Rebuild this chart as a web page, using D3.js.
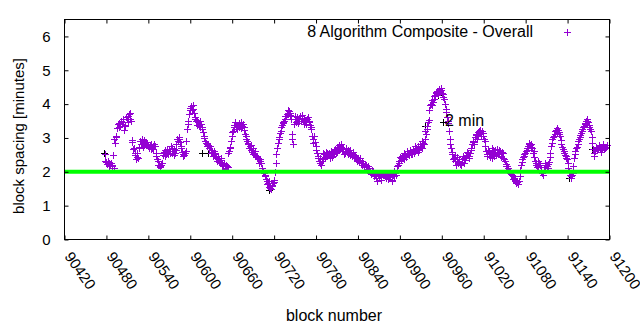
<!DOCTYPE html>
<html>
<head>
<meta charset="utf-8">
<script src="https://cdn.jsdelivr.net/npm/d3@7"></script>
<style>
  html, body { margin: 0; padding: 0; background: #fff; }
  svg { display: block; font-family: "Liberation Sans", Arial, sans-serif; }
</style>
</head>
<body>
<svg id="chart" width="640" height="330"></svg>
<script>
// ---- data ----
const xTicks = [90420, 90480, 90540, 90600, 90660, 90720, 90780, 90840, 90900, 90960, 91020, 91080, 91140, 91200];
const yTicks = [0, 1, 2, 3, 4, 5, 6];
const seriesName = "8 Algorithm Composite - Overall";
const refLabel = "2 min";
const refValue = 2;
const firstBlock = 90478;      // even blocks 90478, 90480, ...
const firstOddBlock = 90479;   // odd blocks 90479, 90481, ...
const blockStep = 2;
const overallEvenValues = [
  2.30, 2.28, 2.22, 2.25, 2.18, 2.15, 2.48, 2.95, 3.05, 3.28,
  3.42, 3.35, 3.50, 3.45, 3.22, 3.38, 3.55, 3.62, 3.73, 3.48,
  2.92, 2.70, 2.55, 2.42, 2.38, 2.68, 2.82, 2.95, 2.78, 2.85,
  2.88, 2.75, 2.72, 2.80, 2.70, 2.66, 2.74, 2.45, 2.30, 2.20,
  2.15, 2.25, 2.55, 2.62, 2.50, 2.58, 2.65, 2.55, 2.70, 2.60,
  2.48, 2.62, 2.95, 3.00, 2.88, 2.68, 2.52, 2.48, 2.60, 3.25,
  3.50, 3.82, 3.93, 3.85, 3.72, 3.55, 3.38, 3.45, 3.30, 3.40,
  3.30, 3.05, 2.90, 2.82, 2.78, 2.70, 2.62, 2.58, 2.50, 2.55,
  2.42, 2.35, 2.28, 2.40, 2.22, 2.15, 2.10, 2.18, 2.12, 2.60,
  2.72, 3.05, 3.20, 3.38, 3.30, 3.25, 3.42, 3.35, 3.28, 3.40,
  3.32, 3.05, 2.90, 2.82, 2.75, 2.62, 2.70, 2.55, 2.48, 2.42,
  2.38, 2.30, 2.25, 2.05, 1.95, 1.85, 1.72, 1.65, 1.55, 1.48,
  1.60, 1.68, 1.98, 2.50, 2.85, 3.00, 3.20, 3.38, 3.45, 3.55,
  3.62, 3.70, 3.78, 3.65, 3.10, 2.80, 3.55, 3.45, 3.60, 3.50,
  3.62, 3.58, 3.48, 3.40, 3.52, 3.55, 3.45, 3.38, 3.25, 2.85,
  3.05, 2.75, 2.55, 2.40, 2.25, 2.20, 2.35, 2.50, 2.42, 2.55,
  2.48, 2.38, 2.60, 2.45, 2.52, 2.65, 2.58, 2.70, 2.78, 2.72,
  2.65, 2.60, 2.55, 2.68, 2.50, 2.58, 2.62, 2.45, 2.52, 2.40,
  2.42, 2.35, 2.28, 2.38, 2.20, 2.25, 2.12, 2.18, 2.05, 2.10,
  1.98, 1.92, 2.00, 1.85, 1.95, 1.72, 1.88, 1.90, 1.82, 1.95,
  1.90, 1.85, 1.93, 1.78, 1.88, 1.92, 1.70, 1.85, 1.95, 2.05,
  2.20, 2.30, 2.38, 2.45, 2.35, 2.50, 2.42, 2.55, 2.48, 2.58,
  2.52, 2.65, 2.60, 2.70, 2.75, 2.62, 2.80, 2.68, 2.85, 2.95,
  3.10, 3.35, 3.52, 3.95, 4.10, 4.05, 4.22, 4.30, 4.38, 4.42,
  4.35, 4.40, 4.28, 4.15, 3.85, 3.60, 3.42, 2.95, 2.70, 2.50,
  2.40, 2.30, 2.42, 2.25, 2.35, 2.18, 2.28, 2.40, 2.32, 2.48,
  2.55, 2.45, 2.62, 2.80, 2.90, 3.00, 3.10, 3.05, 3.18, 3.12,
  3.20, 3.05, 2.90, 2.60, 2.45, 2.58, 2.50, 2.40, 2.62, 2.55,
  2.48, 2.65, 2.52, 2.60, 2.42, 2.55, 2.35, 2.22, 2.15, 2.05,
  2.00, 1.92, 1.85, 1.80, 1.72, 1.68, 1.62, 1.85, 2.20, 2.35,
  2.45, 2.55, 2.62, 2.75, 2.85, 2.80, 2.70, 2.60, 2.30, 2.20,
  2.15, 2.25, 2.05, 1.95, 1.88, 2.12, 2.20, 2.10, 2.28, 2.55,
  2.85, 3.00, 3.10, 3.22, 3.28, 3.15, 3.05, 2.80, 2.65, 2.55,
  2.45, 2.35, 2.10, 1.90, 1.80, 1.95, 2.40, 2.60, 2.72, 2.90,
  3.00, 3.12, 3.25, 3.35, 3.42, 3.50, 3.45, 3.32, 3.20, 2.85,
  2.45, 2.60, 2.72, 2.65, 2.78, 2.62, 2.70, 2.75, 2.68, 2.72
];
const overallOddValues = [
  2.52, 2.22, 2.30, 2.15, 2.25, 2.20, 2.10, 2.85, 3.00, 3.40,
  3.30, 3.48, 3.40, 3.55, 3.35, 3.60, 3.45, 3.70, 3.55, 2.88,
  2.65, 2.48, 2.35, 2.55, 2.72, 2.90, 2.80, 2.72, 2.92, 2.78,
  2.82, 2.68, 2.78, 2.65, 2.75, 2.80, 2.55, 2.35, 2.18, 2.12,
  2.20, 2.48, 2.58, 2.45, 2.65, 2.52, 2.60, 2.75, 2.55, 2.65,
  2.55, 2.80, 2.90, 2.95, 2.75, 2.58, 2.45, 2.55, 2.90, 3.40,
  3.70, 3.88, 3.80, 3.95, 3.60, 3.48, 3.52, 3.35, 3.48, 3.25,
  3.15, 2.98, 2.85, 2.75, 2.68, 2.75, 2.55, 2.45, 2.60, 2.38,
  2.30, 2.45, 2.25, 2.32, 2.18, 2.25, 2.08, 2.15, 2.55, 2.70,
  2.90, 3.15, 3.30, 3.45, 3.35, 3.38, 3.30, 3.45, 3.35, 3.22,
  3.10, 2.95, 2.85, 2.70, 2.78, 2.58, 2.50, 2.60, 2.45, 2.35,
  2.25, 2.35, 2.10, 2.00, 1.90, 1.78, 1.62, 1.70, 1.52, 1.58,
  1.65, 1.75, 2.25, 2.70, 2.95, 3.12, 3.30, 3.42, 3.50, 3.62,
  3.68, 3.80, 3.72, 3.55, 2.95, 3.40, 3.62, 3.55, 3.42, 3.58,
  3.50, 3.65, 3.55, 3.45, 3.40, 3.60, 3.50, 3.30, 3.05, 2.95,
  2.88, 2.62, 2.45, 2.30, 2.38, 2.30, 2.55, 2.38, 2.58, 2.45,
  2.55, 2.50, 2.42, 2.58, 2.62, 2.55, 2.72, 2.62, 2.68, 2.80,
  2.70, 2.52, 2.65, 2.58, 2.62, 2.48, 2.55, 2.58, 2.42, 2.48,
  2.30, 2.40, 2.32, 2.25, 2.30, 2.15, 2.22, 2.08, 2.15, 2.00,
  1.95, 2.05, 1.88, 1.92, 1.80, 1.95, 1.85, 1.75, 1.92, 1.88,
  1.95, 1.80, 1.88, 1.95, 1.82, 1.75, 1.90, 2.00, 1.88, 2.15,
  2.25, 2.42, 2.32, 2.40, 2.55, 2.45, 2.60, 2.52, 2.62, 2.50,
  2.60, 2.55, 2.75, 2.65, 2.58, 2.72, 2.75, 2.90, 2.80, 3.20,
  3.25, 3.45, 3.80, 4.00, 3.95, 4.15, 4.25, 4.35, 4.28, 4.35,
  4.45, 4.32, 4.20, 4.00, 3.75, 3.48, 3.20, 2.80, 2.58, 2.35,
  2.48, 2.20, 2.35, 2.30, 2.22, 2.35, 2.45, 2.25, 2.42, 2.58,
  2.40, 2.55, 2.70, 2.88, 2.82, 3.08, 2.95, 3.15, 3.22, 3.05,
  3.12, 2.95, 2.75, 2.52, 2.62, 2.42, 2.55, 2.68, 2.45, 2.62,
  2.58, 2.50, 2.62, 2.45, 2.58, 2.40, 2.30, 2.15, 2.10, 1.98,
  1.95, 1.88, 1.78, 1.75, 1.65, 1.72, 1.70, 2.05, 2.28, 2.42,
  2.50, 2.60, 2.70, 2.80, 2.78, 2.72, 2.55, 2.42, 2.25, 2.12,
  2.30, 2.18, 2.00, 1.90, 2.05, 2.25, 2.15, 2.22, 2.42, 2.75,
  2.95, 3.05, 3.18, 3.15, 3.22, 3.10, 2.92, 2.72, 2.60, 2.48,
  2.38, 2.25, 2.00, 1.85, 1.88, 2.15, 2.50, 2.68, 2.82, 2.95,
  3.08, 3.20, 3.30, 3.40, 3.48, 3.55, 3.38, 3.25, 3.00, 2.65,
  2.55, 2.68, 2.62, 2.75, 2.70, 2.58, 2.80, 2.65, 2.72, 2.78
];
// a second (black) series, mostly hidden beneath the purple one
const blackBlocks = [90477, 90618, 90626, 90714, 90936, 90955, 90963, 91143, 91176];
const blackValues = [2.55, 2.55, 2.55, 1.45, 3.35, 4.25, 3.45, 1.80, 2.65];

// ---- layout ----
const svg = d3.select("#chart");
const mLeft = 64.5, mRight = 609.5, mTop = 19.5, mBottom = 239.5;
const x = d3.scaleLinear().domain([90420, 91200]).range([mLeft, mRight]);
const y = d3.scaleLinear().domain([0, 6.5]).range([mBottom, mTop]);
const purple = "#9400d3";
const tickFont = 15, textFont = 16;

const overall = overallEvenValues.map((v, i) => ({ b: firstBlock + i * blockStep, v }))
  .concat(overallOddValues.map((v, i) => ({ b: firstOddBlock + i * blockStep, v })))
  .sort((a, b) => a.b - b.b);
const blacks = blackBlocks.map((b, i) => ({ b, v: blackValues[i] }));

const plus = "M-3.5,0H3.5M0,-3.5V3.5";
const px = v => Math.round(v - 0.5) + 0.5;

// black series
svg.append("g").selectAll("path").data(blacks).join("path")
  .attr("d", plus)
  .attr("transform", d => `translate(${px(x(d.b))},${px(y(d.v))})`)
  .attr("fill", "none").attr("stroke", "#000").attr("stroke-width", 1);

// purple series
svg.append("g").selectAll("path").data(overall).join("path")
  .attr("d", plus)
  .attr("transform", d => `translate(${px(x(d.b))},${px(y(d.v))})`)
  .attr("fill", "none").attr("stroke", purple).attr("stroke-width", 1);

// reference line at 2 min
svg.append("line")
  .attr("x1", x(90420)).attr("x2", x(91200))
  .attr("y1", y(refValue)).attr("y2", y(refValue))
  .attr("stroke", "#00ff00").attr("stroke-width", 4);

svg.append("text")
  .attr("x", 445).attr("y", 126)
  .attr("font-size", textFont).attr("fill", "#000")
  .text(refLabel);

// axes (ticks inward, mirrored)
const tickLen = 4;
const gB = svg.append("g").attr("transform", `translate(0,${mBottom})`)
  .call(d3.axisBottom(x).tickValues(xTicks).tickSize(-tickLen).tickSizeOuter(0).tickFormat(d3.format("d")));
gB.selectAll("text")
  .attr("font-size", tickFont).attr("fill", "#000").attr("font-family", "Liberation Sans, Arial, sans-serif")
  .attr("text-anchor", "start").attr("dy", null)
  .attr("transform", "translate(-1,17) rotate(55)")
  .attr("y", 0).attr("x", 0);
const gT = svg.append("g").attr("transform", `translate(0,${mTop})`)
  .call(d3.axisTop(x).tickValues(xTicks).tickSize(-tickLen).tickSizeOuter(0).tickFormat(""));
const gL = svg.append("g").attr("transform", `translate(${mLeft},0)`)
  .call(d3.axisLeft(y).tickValues(yTicks).tickSize(-tickLen).tickSizeOuter(0).tickPadding(14).tickFormat(d3.format("d")));
gL.selectAll("text").attr("font-size", tickFont).attr("fill", "#000").attr("font-family", "Liberation Sans, Arial, sans-serif");
const gR = svg.append("g").attr("transform", `translate(${mRight},0)`)
  .call(d3.axisRight(y).tickValues(yTicks).tickSize(-tickLen).tickSizeOuter(0).tickFormat(""));
[gB, gT, gL, gR].forEach(g => {
  g.select(".domain").remove();
  g.selectAll("line").attr("stroke", "#000");
});

// frame
svg.append("rect")
  .attr("x", mLeft).attr("y", mTop).attr("width", mRight - mLeft).attr("height", mBottom - mTop)
  .attr("fill", "none").attr("stroke", "#000").attr("stroke-width", 1);

// axis titles
svg.append("text")
  .attr("x", 334).attr("y", 321).attr("text-anchor", "middle")
  .attr("font-size", textFont).attr("fill", "#000")
  .text("block number");
svg.append("text")
  .attr("transform", "translate(24,136) rotate(-90)")
  .attr("text-anchor", "middle")
  .attr("font-size", 15).attr("fill", "#000")
  .text("block spacing [minutes]");

// legend
svg.append("text")
  .attr("x", 533).attr("y", 37).attr("text-anchor", "end")
  .attr("font-size", textFont).attr("fill", "#000")
  .text(seriesName);
svg.append("path")
  .attr("d", plus)
  .attr("transform", `translate(${px(567)},${px(32.5)})`)
  .attr("fill", "none").attr("stroke", purple).attr("stroke-width", 1);
</script>
</body>
</html>
